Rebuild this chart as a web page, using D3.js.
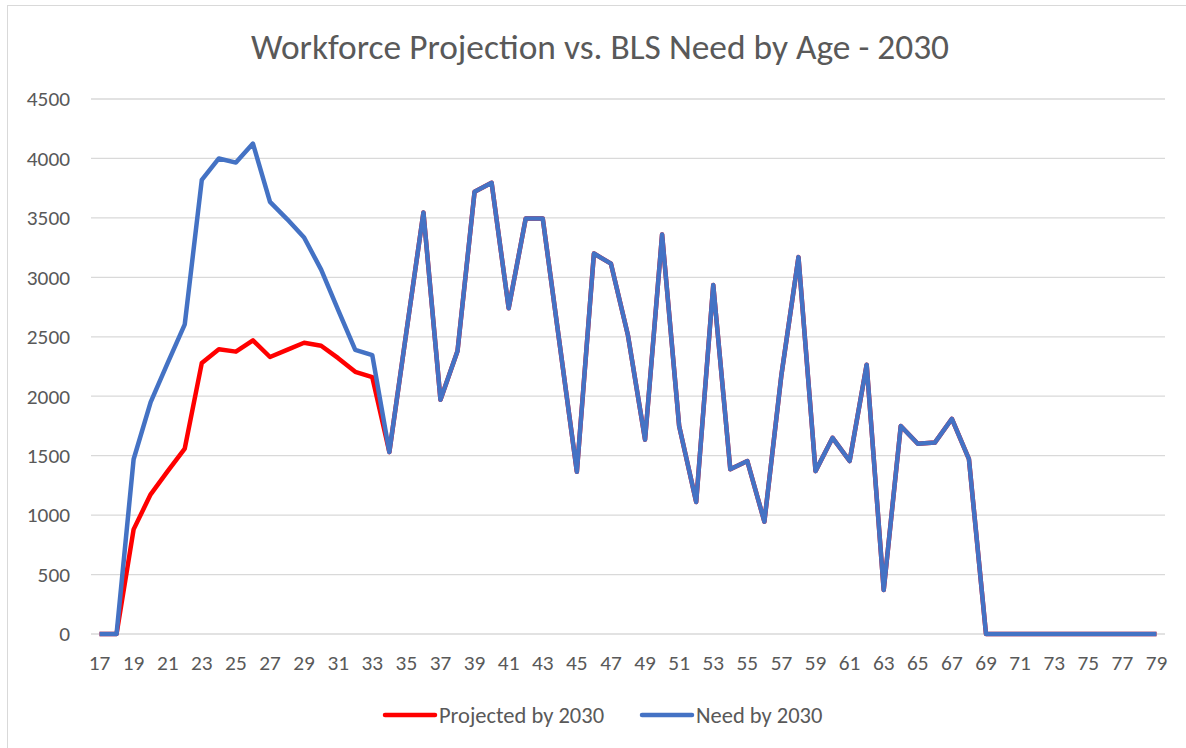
<!DOCTYPE html>
<html>
<head>
<meta charset="utf-8">
<script src="https://cdn.jsdelivr.net/npm/d3@7"></script>
<style>
  body { margin: 0; background: #fff; }
  text { font-family: Carlito, "Open Sans", "Noto Sans", sans-serif; fill: #595959; }
</style>
</head>
<body>
<div id="chart"></div>
<script>
// chart data
var ages = d3.range(17, 80);   // 17 .. 79

var projected = [0, 0, 880, 1175, 1370, 1560, 2280, 2395, 2375, 2470, 2330, 2390, 2450, 2425, 2320, 2205, 2160,
  1530, 2540, 3545, 1970, 2380, 3720, 3795, 2740, 3495, 3495, 2430, 1365, 3200, 3115, 2510, 1635, 3360,
  1750, 1110, 2935, 1385, 1455, 945, 2180, 3170, 1370, 1650, 1455, 2265, 370, 1750, 1600, 1610, 1810, 1470,
  0, 0, 0, 0, 0, 0, 0, 0, 0, 0, 0];

var need = [0, 0, 1470, 1950, 2280, 2605, 3820, 4000, 3965, 4125, 3635, 3490, 3335, 3065, 2725, 2390, 2345,
  1530, 2540, 3545, 1970, 2380, 3720, 3795, 2740, 3495, 3495, 2430, 1365, 3200, 3115, 2510, 1635, 3360,
  1750, 1110, 2935, 1385, 1455, 945, 2180, 3170, 1370, 1650, 1455, 2265, 370, 1750, 1600, 1610, 1810, 1470,
  0, 0, 0, 0, 0, 0, 0, 0, 0, 0, 0];

var yTicks = d3.range(0, 4501, 500);

var series = [
  { name: "Projected by 2030", values: projected, color: "#FF0000" },
  { name: "Need by 2030", values: need, color: "#4472C4" }
];

// Setup
var width = 1186;
var height = 748;
var plot = { left: 91, right: 1165, top: 99, bottom: 634 };

var svg = d3.select("#chart")
  .append("svg")
  .attr("width", width)
  .attr("height", height);

// chart area border
svg.append("rect")
  .attr("x", 7.5).attr("y", 5.5)
  .attr("width", 1200).attr("height", 760)
  .attr("fill", "none")
  .attr("stroke", "#d9d9d9");

// scales
var x = d3.scaleBand()
  .domain(ages)
  .range([plot.left, plot.right]);

var y = d3.scaleLinear()
  .domain([0, 4500])
  .range([plot.bottom, plot.top]);

var cx = function(a) { return x(a) + x.bandwidth() / 2; };

// gridlines
svg.append("g")
  .selectAll("line")
  .data(yTicks)
  .enter()
  .append("line")
  .attr("x1", plot.left)
  .attr("x2", plot.right)
  .attr("y1", d => y(d))
  .attr("y2", d => y(d))
  .attr("stroke", "#d9d9d9")
  .attr("stroke-width", 1.3);

// y axis labels
var leftAxis = d3.axisLeft(y)
  .tickValues(yTicks)
  .tickFormat(d3.format("d"))
  .tickSize(0)
  .tickPadding(0);
var yAxis = svg.append("g")
  .attr("transform", "translate(70,0)")
  .call(leftAxis);
yAxis.select(".domain").remove();
yAxis.selectAll("text")
  .attr("font-size", 21.3)
  .attr("font-family", null)
  .attr("fill", "#595959");

// x axis labels (every other age)
var bottomAxis = d3.axisBottom(x)
  .tickValues(ages.filter(a => a % 2 === 1))
  .tickSize(0)
  .tickPadding(0);
var xAxis = svg.append("g")
  .attr("transform", "translate(0,655)")
  .call(bottomAxis);
xAxis.select(".domain").remove();
xAxis.selectAll("text")
  .attr("font-size", 21.3)
  .attr("font-family", null)
  .attr("fill", "#595959");

// lines
var line = d3.line()
  .x((d, i) => cx(ages[i]))
  .y(d => y(d));

svg.append("g")
  .selectAll("path")
  .data(series)
  .enter()
  .append("path")
  .attr("d", d => line(d.values))
  .attr("fill", "none")
  .attr("stroke", d => d.color)
  .attr("stroke-width", 4.5)
  .attr("stroke-linejoin", "round");

// title
svg.append("text")
  .attr("x", 600)
  .attr("y", 59)
  .attr("text-anchor", "middle")
  .attr("font-size", 35.4)
  .text("Workforce Projection vs. BLS Need by Age - 2030");

// legend
var legendX = [383, 640];
var legend = svg.append("g")
  .selectAll("g")
  .data(series)
  .enter()
  .append("g")
  .attr("transform", (d, i) => `translate(${legendX[i]},715)`);

legend.append("line")
  .attr("x1", 2).attr("x2", 52)
  .attr("y1", 0).attr("y2", 0)
  .attr("stroke", d => d.color)
  .attr("stroke-width", 4.5)
  .attr("stroke-linecap", "round");

legend.append("text")
  .attr("x", 56)
  .attr("y", 7.5)
  .attr("font-size", 22.5)
  .text(d => d.name);
</script>
</body>
</html>
